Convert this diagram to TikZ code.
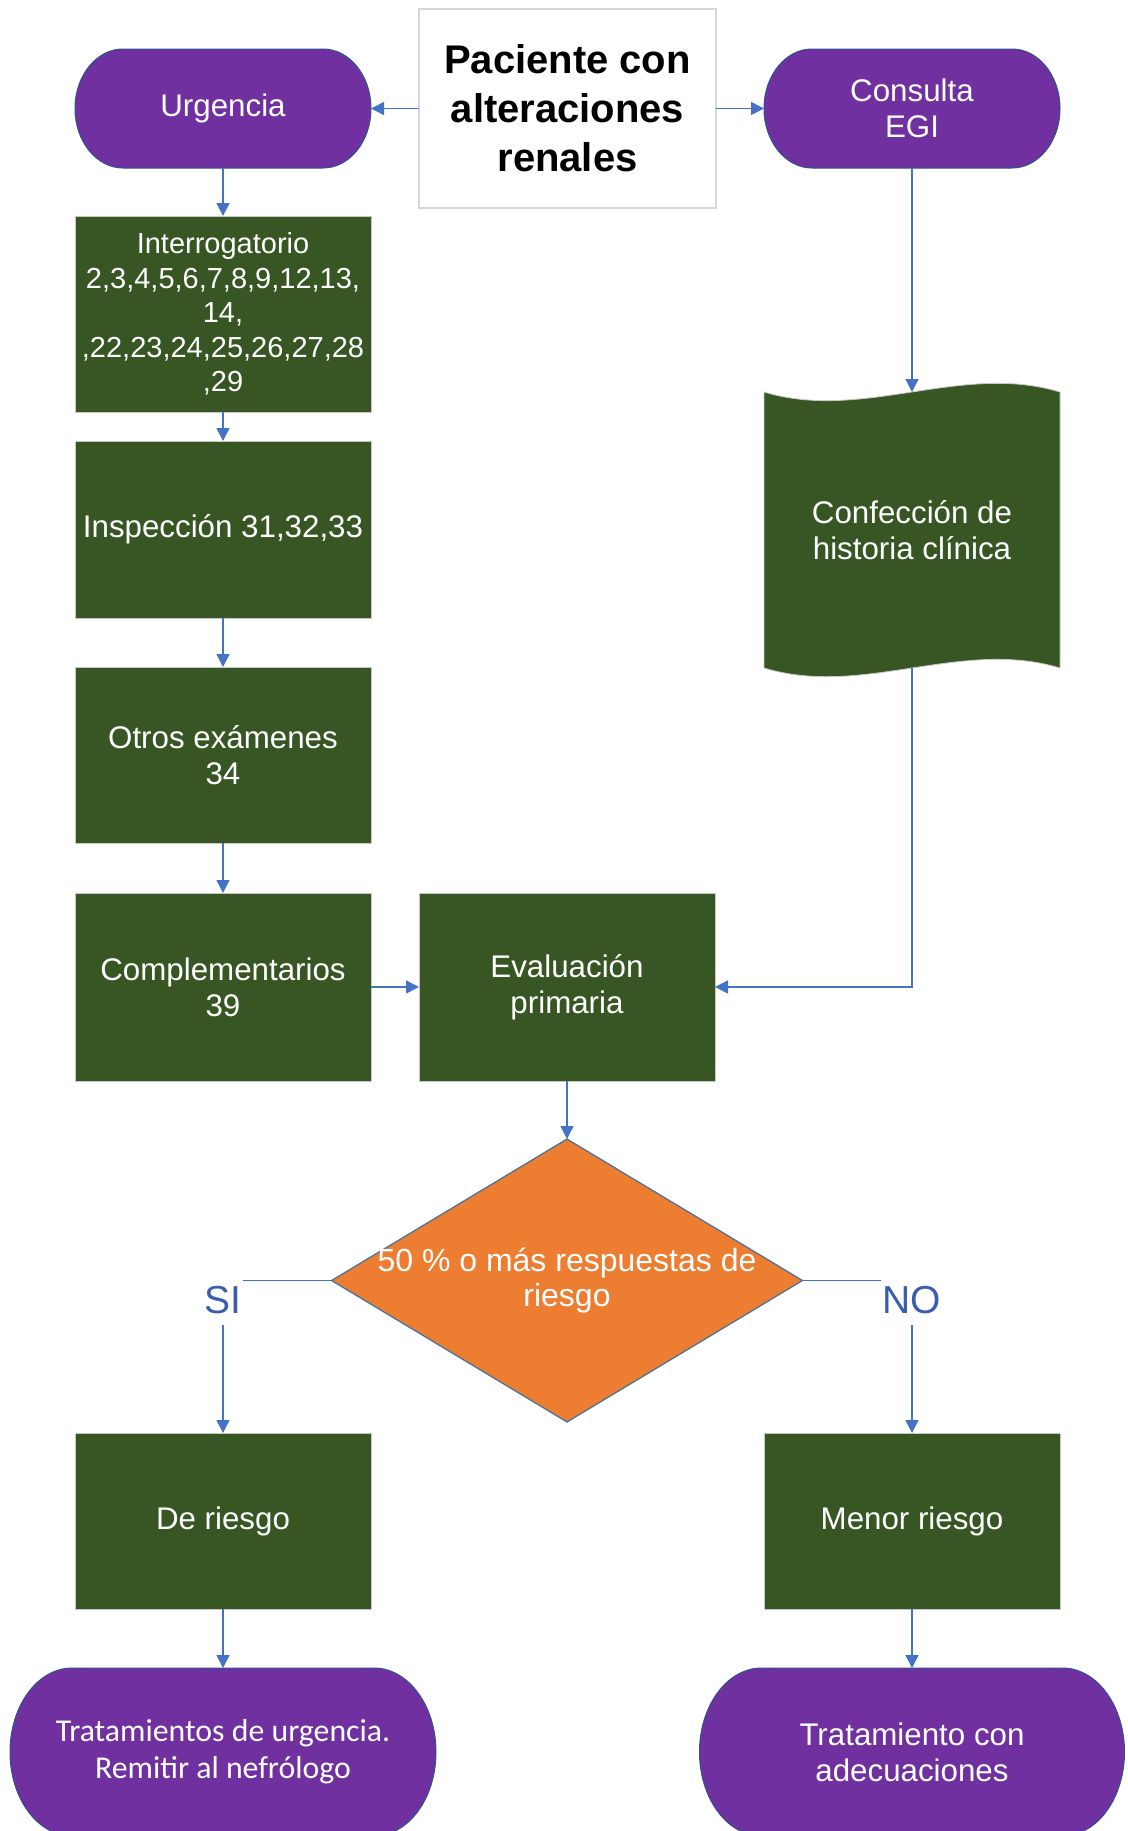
\documentclass[tikz,border=0pt]{standalone}
\usepackage{fontspec}
\setmainfont{Liberation Sans}
\newfontfamily\calibrifont{Carlito}
\usetikzlibrary{arrows.meta,positioning,shapes,calc,backgrounds}

\definecolor{boxgreen}{HTML}{375623}
\definecolor{termpurple}{HTML}{7030A0}
\definecolor{decorange}{HTML}{ED7D31}
\definecolor{flowblue}{HTML}{4472C4}
\definecolor{labelblue}{HTML}{3A5DAE}
\definecolor{edgegrey}{HTML}{C8C8C8}
\definecolor{startedge}{HTML}{D6D6D6}
\definecolor{termedge}{HTML}{2F528F}
\definecolor{decedge}{HTML}{41719C}

% purple terminal drawn behind a node: name, x radius, y radius
\newcommand{\stadium}[3]{%
  \filldraw[fill=termpurple, draw=termedge, line width=1pt]
    ($(#1.north west)+(#2,0)$) -- ($(#1.north east)+(-#2,0)$)
    arc[start angle=90, end angle=-90, x radius=#2pt, y radius=#3pt]
    -- ($(#1.south west)+(#2,0)$)
    arc[start angle=270, end angle=90, x radius=#2pt, y radius=#3pt] -- cycle;}

% wavy document shape drawn behind a node
\newcommand{\wavybox}[1]{%
  \filldraw[fill=boxgreen, draw=edgegrey, line width=0.8pt] (#1.north west)
    .. controls ($(#1.north west)+(99,30)$) and ($(#1.north east)+(-99,-30)$) .. (#1.north east)
    -- (#1.south east)
    .. controls ($(#1.south east)+(-99,-30)$) and ($(#1.south west)+(99,30)$) .. (#1.south west)
    -- cycle;}

\begin{document}
\begin{tikzpicture}[
  x=1pt, y=-1pt,
  font=\fontsize{31.3}{36}\selectfont,
  % Styles
  flow/.style={-{Triangle[length=13pt,width=13pt]}, draw=flowblue, line width=1.5pt},
  process/.style={rectangle, fill=boxgreen, draw=edgegrey, line width=1pt, text=white,
    minimum width=296pt, align=center, inner sep=2pt, outer sep=0pt},
  terminal/.style={rectangle, text=white, minimum width=296pt, minimum height=119pt,
    align=center, inner sep=2pt, outer sep=0pt},
  startbox/.style={rectangle, fill=white, draw=startedge, line width=1.5pt,
    minimum width=297pt, minimum height=199pt, align=center, outer sep=0pt,
    font=\bfseries\fontsize{40}{49}\selectfont},
  docbox/.style={rectangle, text=white, minimum width=296pt, minimum height=276pt,
    align=center, inner sep=2pt, outer sep=0pt},
  decision/.style={diamond, fill=decorange, draw=decedge, line width=1.2pt,
    minimum width=471pt, minimum height=283pt, inner sep=0pt, outer sep=0pt},
  answer/.style={fill=white, text=labelblue, font=\fontsize{39}{39}\selectfont,
    inner xsep=2pt, inner ysep=0pt, minimum height=49pt},
  ]
\useasboundingbox (0,0) rectangle (1127,1831);

%--- Top row ---------------------------------------------------------
\node[terminal] (urg) at (223,108.5) {Urgencia};
\node[startbox, right=48pt of urg] (pac) {Paciente con\\alteraciones\\renales};
\node[terminal, right=48pt of pac] (egi) {Consulta\\EGI};

%--- Left column -----------------------------------------------------
\node[process, minimum height=196pt, font=\fontsize{29}{34.5}\selectfont, below=48pt of urg]
  (interr) {Interrogatorio\\2,3,4,5,6,7,8,9,12,13,\\14,\\,22,23,24,25,26,27,28\\,29};
\node[process, minimum height=177pt, below=29pt of interr] (insp) {Inspección 31,32,33};
\node[process, minimum height=176pt, below=49pt of insp] (otros) {Otros exámenes\\34};
\node[process, minimum height=188pt, below=50pt of otros] (compl) {Complementarios\\39};
\node[process, minimum height=188pt, right=48pt of compl] (eval) {Evaluación\\primaria};

%--- Right column ----------------------------------------------------
\node[docbox, below=224pt of egi] (conf) {Confección de\\historia clínica};

%--- Decision --------------------------------------------------------
\node[decision, below=58pt of eval,
  label={[text=white, align=center, font=\fontsize{32}{35}\selectfont]center:50 \% o más respuestas de\\riesgo}]
  (dec) {};

\node[process, minimum height=176pt, below=352pt of compl] (riesgo) {De riesgo};
\node[process, minimum height=176pt, below=765pt of conf] (menor) {Menor riesgo};

\node[terminal, minimum width=426pt, minimum height=168pt, below=59pt of riesgo,
  font=\calibrifont\fontsize{31.8}{37}\selectfont]
  (trat1) {Tratamientos de urgencia.\\Remitir al nefrólogo};
\node[terminal, minimum width=425pt, minimum height=168pt, below=59pt of menor]
  (trat2) {Tratamiento con\\adecuaciones};

% Shapes behind the text
\begin{scope}[on background layer]
  \stadium{urg}{48}{59.5}
  \stadium{egi}{48}{59.5}
  \stadium{trat1}{62}{84}
  \stadium{trat2}{62}{84}
  \wavybox{conf}
\end{scope}

%--- Connectors ------------------------------------------------------
\draw[flow] (pac) -- (urg);
\draw[flow] (pac) -- (egi);
\draw[flow] (urg) -- (interr);
\draw[flow] (interr) -- (insp);
\draw[flow] (insp) -- (otros);
\draw[flow] (otros) -- (compl);
\draw[flow] (compl) -- (eval);
\draw[flow] (egi) -- (conf);
\draw[flow] (conf.south) |- (eval.east);
\draw[flow] (eval) -- (dec);
\draw[flow] (dec.west) -| node[answer, pos=0.5, yshift=-20pt] {SI} (riesgo.north);
\draw[flow] (dec.east) -| node[answer, pos=0.5, yshift=-20pt] {NO} (menor.north);
\draw[flow] (riesgo) -- (trat1);
\draw[flow] (menor) -- (trat2);

\end{tikzpicture}
\end{document}
